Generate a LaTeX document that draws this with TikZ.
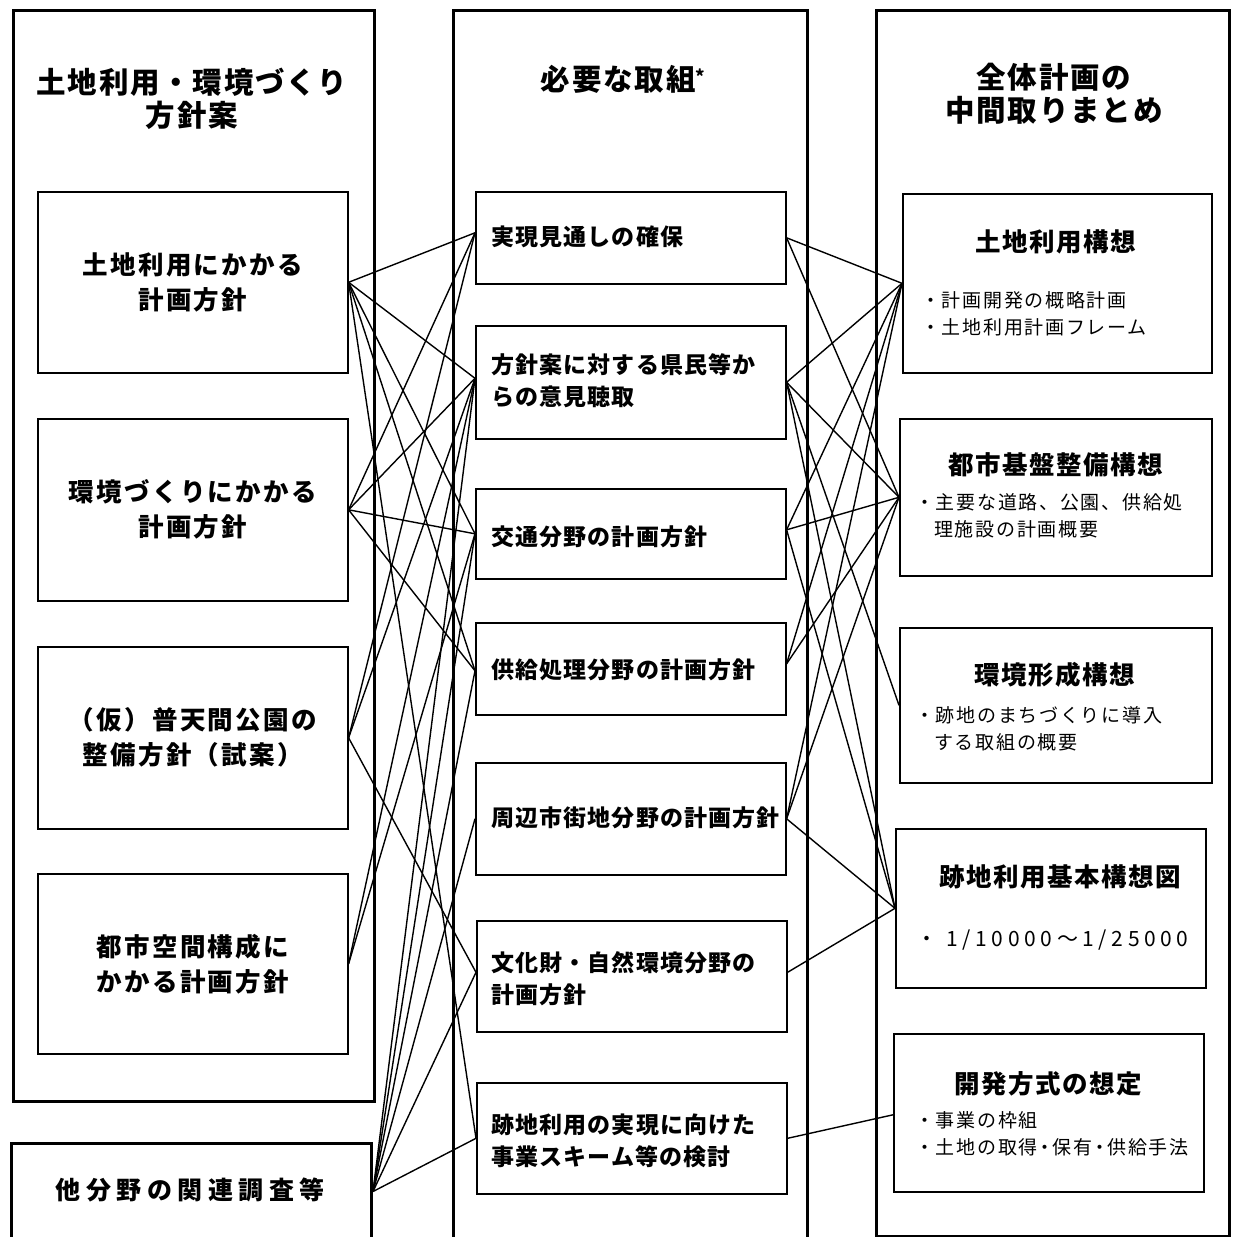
\documentclass[tikz,border=0pt]{standalone}
\usepackage{fontspec}
\setmainfont{Noto Sans CJK JP}
\newfontfamily\jpA{Noto Sans CJK JP}[LetterSpace=6]
\newfontfamily\jpB{Noto Sans CJK JP}[LetterSpace=9]
\newfontfamily\jpC{Noto Sans CJK JP}[LetterSpace=22]
\newfontfamily\jpD{Noto Sans CJK JP}[LetterSpace=5]
\newcommand{\nd}{\makebox[15pt]{・}}
\begin{document}
\begin{tikzpicture}[x=1pt,y=-1pt,
  col/.style={draw, line width=3pt, inner sep=0, anchor=north west},
  ibox/.style={draw, line width=1.6pt, inner sep=0, anchor=north west},
  link/.style={line width=1.4pt},
  hdr/.style={font=\jpA\fontsize{29.5}{33}\selectfont\bfseries, align=center, inner sep=0},
  ltitle/.style={font=\jpB\fontsize{25.5}{35}\selectfont\bfseries, align=center, inner sep=0},
  mtitle/.style={font=\jpD\fontsize{23}{32}\selectfont\bfseries, align=left, inner sep=0, anchor=west},
  rtitle/.style={font=\jpA\fontsize{25.5}{30}\selectfont\bfseries, inner sep=0},
  bul/.style={font=\jpB\fontsize{19}{27.5}\selectfont, align=left, inner sep=0, anchor=west}]
\useasboundingbox (0,0) rectangle (1232,1237);
\clip (0,0) rectangle (1232,1237);
\fill[white] (0,0) rectangle (1232,1237);

% column frames
\node[col, minimum width=361pt, minimum height=1091pt] (colL) at (12,9) {};
\node[col, minimum width=360pt, minimum height=96pt] (oth) at (10,1142) {};
\node[col, minimum width=354pt, minimum height=1240pt] (colM) at (452,9) {};
\node[col, minimum width=353pt, minimum height=1226pt] (colR) at (875,9) {};

% headers
\node[hdr] (hL) at (192,99) {土地利用・環境づくり\\方針案};
\node[hdr] (hM) at (623,79) {必要な取組{\fontsize{18}{18}\selectfont\raisebox{7pt}{*}}};
\node[hdr] (hR) at (1054,94) {全体計画の\\中間取りまとめ};

% left boxes
\node[ibox, minimum width=310pt, minimum height=181pt] (l1) at (37,191) {};
\node[ibox, minimum width=310pt, minimum height=182pt] (l2) at (37,418) {};
\node[ibox, minimum width=310pt, minimum height=182pt] (l3) at (37,646) {};
\node[ibox, minimum width=310pt, minimum height=180pt] (l4) at (37,873) {};
\node[ltitle] (tl1) at (l1.center) {土地利用にかかる\\計画方針};
\node[ltitle] (tl2) at (l2.center) {環境づくりにかかる\\計画方針};
\node[ltitle] (tl3) at (l3.center) {（仮）普天間公園の\\整備方針（試案）};
\node[ltitle] (tl4) at (l4.center) {都市空間構成に\\かかる計画方針};
\node[font=\jpC\fontsize{25}{30}\selectfont\bfseries, inner sep=0] (toth) at (190,1190) {他分野の関連調査等};

% middle boxes
\node[ibox, minimum width=310pt, minimum height=92pt] (m1) at (475,191) {};
\node[ibox, minimum width=310pt, minimum height=113pt] (m2) at (475,325) {};
\node[ibox, minimum width=310pt, minimum height=90pt] (m3) at (475,488) {};
\node[ibox, minimum width=310pt, minimum height=92pt] (m4) at (475,622) {};
\node[ibox, minimum width=310pt, minimum height=112pt] (m5) at (475,762) {};
\node[ibox, minimum width=310pt, minimum height=111pt] (m6) at (476,920) {};
\node[ibox, minimum width=310pt, minimum height=111pt] (m7) at (476,1082) {};
\node[mtitle] (tm1) at (491,237) {実現見通しの確保};
\node[mtitle] (tm2) at (491,381) {方針案に対する県民等か\\らの意見聴取};
\node[mtitle] (tm3) at (491,537) {交通分野の計画方針};
\node[mtitle] (tm4) at (491,670) {供給処理分野の計画方針};
\node[mtitle] (tm5) at (491,818) {周辺市街地分野の計画方針};
\node[mtitle] (tm6) at (491,979) {文化財・自然環境分野の\\計画方針};
\node[mtitle] (tm7) at (491,1141) {跡地利用の実現に向けた\\事業スキーム等の検討};

% right boxes
\node[ibox, minimum width=309pt, minimum height=179pt] (r1) at (902,193) {};
\node[ibox, minimum width=312pt, minimum height=157pt] (r2) at (899,418) {};
\node[ibox, minimum width=312pt, minimum height=155pt] (r3) at (899,627) {};
\node[ibox, minimum width=310pt, minimum height=159pt] (r4) at (895,828) {};
\node[ibox, minimum width=310pt, minimum height=158pt] (r5) at (893,1033) {};
\node[rtitle] (tr1) at (1056,242) {土地利用構想};
\node[bul] (br1) at (921,314) {・計画開発の概略計画\\・土地利用計画フレーム};
\node[rtitle] (tr2) at (1056,465) {都市基盤整備構想};
\node[bul] (br2) at (915,516) {・主要な道路、公園、供給処\\\phantom{・}理施設の計画概要};
\node[rtitle] (tr3) at (1055,675) {環境形成構想};
\node[bul] (br3) at (915,729) {・跡地のまちづくりに導入\\\phantom{・}する取組の概要};
\node[rtitle] (tr4) at (1060,877) {跡地利用基本構想図};
\node[bul, font=\jpC\fontsize{21}{27}\selectfont] (br4) at (916,940) {・ 1/10000～1/25000};
\node[rtitle] (tr5) at (1048,1084) {開発方式の想定};
\node[bul] (br5) at (915,1134) {・事業の枠組\\・土地の取得\nd 保有\nd 供給手法};

% connectors: left side
\foreach \m/\s in {m1/5,m2/4,m3/0,m4/-2,m7/0} \draw[link] (l1.east) -- ([yshift=\s pt]\m.west);
\foreach \m/\s in {m1/5,m2/4,m3/0,m4/-2} \draw[link] (l2.east) -- ([yshift=\s pt]\m.west);
\foreach \m/\s in {m1/5,m2/4,m6/4} \draw[link] (l3.east) -- ([yshift=\s pt]\m.west);
\foreach \m/\s in {m2/4,m3/0} \draw[link] (l4.east) -- ([yshift=\s pt]\m.west);
\foreach \m/\s in {m2/4,m3/0,m4/-2,m5/0,m6/4,m7/0} \draw[link] (oth.east) -- ([yshift=\s pt]\m.west);

% connectors: right side
\foreach \r in {r1,r2} \draw[link] (m1.east) -- (\r.west);
\foreach \r in {r1,r2,r3,r4} \draw[link] (m2.east) -- (\r.west);
\foreach \r in {r1,r2,r4} \draw[link] ([yshift=4pt]m3.east) -- (\r.west);
\foreach \r in {r1,r2} \draw[link] ([yshift=5pt]m4.east) -- (\r.west);
\foreach \r in {r1,r2,r4} \draw[link] (m5.east) -- (\r.west);
\draw[link] ([yshift=4pt]m6.east) -- (r4.west);
\draw[link] (m7.east) -- ([yshift=-2pt]r5.west);
\end{tikzpicture}
\end{document}
